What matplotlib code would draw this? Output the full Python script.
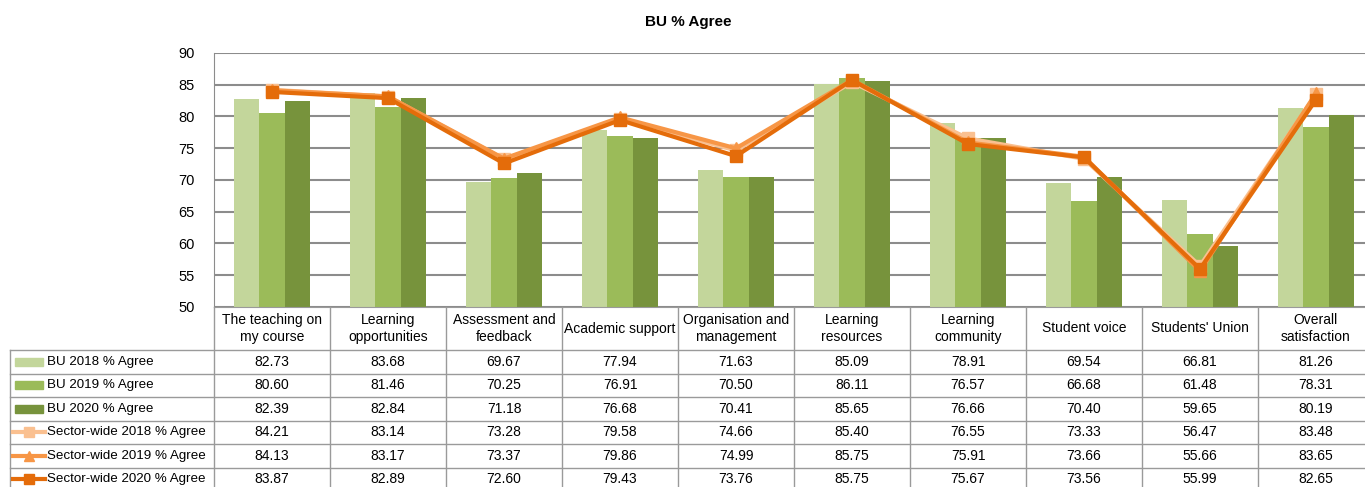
import numpy as np
import matplotlib.pyplot as plt
from matplotlib.patches import Rectangle

plt.rcParams['font.family'] = ['Liberation Sans', 'DejaVu Sans']

categories = ["The teaching on\nmy course", "Learning\nopportunities", "Assessment and\nfeedback",
              "Academic support", "Organisation and\nmanagement", "Learning\nresources",
              "Learning\ncommunity", "Student voice", "Students' Union", "Overall\nsatisfaction"]
bu_2018 = [82.73, 83.68, 69.67, 77.94, 71.63, 85.09, 78.91, 69.54, 66.81, 81.26]
bu_2019 = [80.60, 81.46, 70.25, 76.91, 70.50, 86.11, 76.57, 66.68, 61.48, 78.31]
bu_2020 = [82.39, 82.84, 71.18, 76.68, 70.41, 85.65, 76.66, 70.40, 59.65, 80.19]
sw_2018 = [84.21, 83.14, 73.28, 79.58, 74.66, 85.40, 76.55, 73.33, 56.47, 83.48]
sw_2019 = [84.13, 83.17, 73.37, 79.86, 74.99, 85.75, 75.91, 73.66, 55.66, 83.65]
sw_2020 = [83.87, 82.89, 72.60, 79.43, 73.76, 85.75, 75.67, 73.56, 55.99, 82.65]

row_names = ["BU 2018 % Agree", "BU 2019 % Agree", "BU 2020 % Agree",
             "Sector-wide 2018 % Agree", "Sector-wide 2019 % Agree", "Sector-wide 2020 % Agree"]
rows = [bu_2018, bu_2019, bu_2020, sw_2018, sw_2019, sw_2020]

c_bar = ["#C3D69B", "#9BBB59", "#77933C"]
c_line = ["#FAC090", "#F79646", "#E46C0A"]
markers = ["s", "^", "s"]
grid_c = "#8C8C8C"
border_c = "#9A9A9A"

W, H = 1365, 487
fig = plt.figure(figsize=(W / 100, H / 100), dpi=100)
cw = 116  # largeur d'une categorie en pixels
ax = fig.add_axes([214 / W, (H - 307) / H, 10 * cw / W, 254 / H])

x = np.arange(len(categories))
bw = 0.22
for k, serie in enumerate([bu_2018, bu_2019, bu_2020]):
    ax.bar(x + (k - 1) * bw, serie, bw, color=c_bar[k], zorder=2)
for k, serie in enumerate([sw_2018, sw_2019, sw_2020]):
    ax.plot(x, serie, color=c_line[k], marker=markers[k], ms=9 if k < 2 else 8, lw=3, zorder=3)

ax.set_xlim(-0.5, 9.5)
ax.set_ylim(50, 90)
ax.set_yticks(range(50, 91, 5))
ax.yaxis.grid(True, color=grid_c, lw=1.5)
ax.set_axisbelow(True)
ax.set_xticks([])
for s in ["top", "right"]:
    ax.spines[s].set_visible(False)
ax.spines["left"].set_color(grid_c)
ax.spines["bottom"].set_color(border_c)
ax.tick_params(axis="y", length=0, pad=14, labelsize=10.5)

fig.text(688 / W, 1 - 22 / H, "BU % Agree", ha="center", va="center", fontweight="bold", fontsize=11)

# tableau de donnees sous le graphique
tab = fig.add_axes([214 / W, 0, 10 * cw / W, 180 / H])
tab.set_xlim(-0.5, 9.5)
tab.set_ylim(180, 0)
tab.axis("off")

def px(p):
    return -0.5 + (p - 214) / cw

edges = [0, 43, 66.5, 90, 113.5, 137, 160.5, 184]
x_left = px(10)
for i in range(11):
    tab.plot([i - 0.5, i - 0.5], [0, edges[-1]], color=border_c, lw=1, clip_on=False)
tab.plot([x_left, x_left], [edges[1], edges[-1]], color=border_c, lw=1, clip_on=False)
for e in edges[1:]:
    tab.plot([x_left, 9.5], [e, e], color=border_c, lw=1, clip_on=False)

for i, c in enumerate(categories):
    tab.text(i, 21.5, c, ha="center", va="center", fontsize=10, linespacing=1.35, clip_on=False)

for r, (name, vals) in enumerate(zip(row_names, rows)):
    yc = (edges[r + 1] + edges[r + 2]) / 2
    for i, v in enumerate(vals):
        tab.text(i, yc, "%.2f" % v, ha="center", va="center", fontsize=10, clip_on=False)
    if r < 3:
        tab.add_patch(Rectangle((px(15), yc - 4), px(43) - px(15), 8, color=c_bar[r], clip_on=False))
    else:
        k = r - 3
        tab.plot([px(13), px(45)], [yc, yc], color=c_line[k], lw=3, clip_on=False)
        tab.plot([px(29)], [yc], color=c_line[k], marker=markers[k], ms=6.5, clip_on=False)
    tab.text(px(47), yc, name, ha="left", va="center", fontsize=9.6, clip_on=False)

plt.savefig("out.png", dpi=100)
